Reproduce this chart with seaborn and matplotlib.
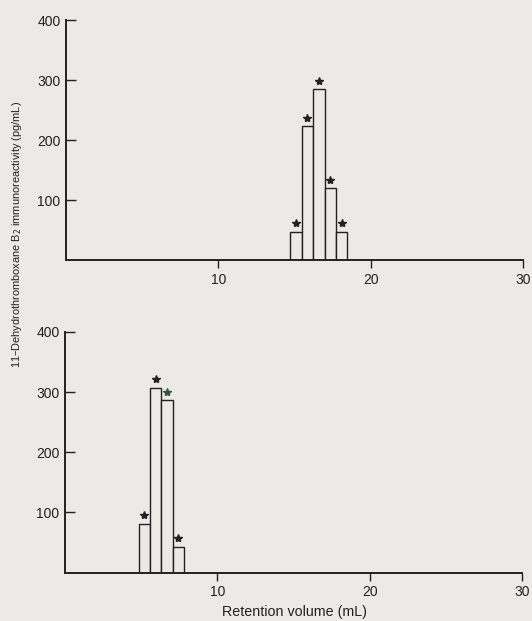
import matplotlib
matplotlib.use("Agg")
import matplotlib.pyplot as plt
import seaborn as sns
import pandas as pd

# Fraction retention volumes (mL, fraction centres) and measured immunoreactivity (pg/mL)
top_volume = [15.1, 15.85, 16.6, 17.35, 18.1]
top_values = [47, 223, 285, 120, 47]

bottom_volume = [5.2, 5.95, 6.7, 7.45]
bottom_values = [81, 307, 287, 43]

x_ticks = [10, 20, 30]
y_ticks = [100, 200, 300, 400]

paper = "#ebeae6"
ink = "#222222"

sns.set_theme(style="ticks")
plt.rcParams["font.family"] = ["Liberation Sans", "DejaVu Sans"]

W, H = 532, 621
fig = plt.figure(figsize=(W / 100, H / 100), dpi=100, facecolor=paper)


def panel(rect, volume, values, star_colors):
    ax = fig.add_axes(rect, facecolor=paper)
    df = pd.DataFrame({"volume": volume, "value": values})
    sns.barplot(data=df, x="volume", y="value", native_scale=True, width=1.0,
                color=paper, edgecolor=ink, linewidth=1.0, saturation=1, ax=ax)
    for v, val, c in zip(volume, values, star_colors):
        ax.plot(v, val + 14, marker="*", markersize=6, color=c, linestyle="none")
    ax.set_xlim(0, 30)
    ax.set_ylim(0, 400)
    ax.set_xticks(x_ticks)
    ax.set_yticks(y_ticks)
    ax.set_xlabel("")
    ax.set_ylabel("")
    for s in ["top", "right"]:
        ax.spines[s].set_visible(False)
    for s in ["left", "bottom"]:
        ax.spines[s].set_color(ink)
        ax.spines[s].set_linewidth(1.4)
    ax.tick_params(axis="x", direction="out", length=6, width=1.0, colors=ink,
                   labelsize=10, pad=3)
    ax.tick_params(axis="y", direction="in", length=7, width=1.0, colors=ink,
                   labelsize=10, pad=4)
    return ax


x0 = 66 / W
w = (523 - 66) / W
panel([x0, 1 - 260 / H, w, 240 / H], top_volume, top_values, [ink] * 5)
panel([x0 - 1 / W, 1 - 572.5 / H, w, 240.5 / H], bottom_volume, bottom_values,
      [ink, ink, "#2f5a35", ink])

fig.text(17 / W, 1 - 234 / H,
         "11\u2013Dehydrothromboxane B$_2$ immunoreactivity (pg/mL)",
         rotation=90, ha="center", va="center", fontsize=7.9, color=ink)
fig.text(295 / W, 1 - 612 / H, "Retention volume (mL)",
         ha="center", va="center", fontsize=10.3, color=ink)

fig.savefig("out.png", dpi=100, facecolor=paper)
